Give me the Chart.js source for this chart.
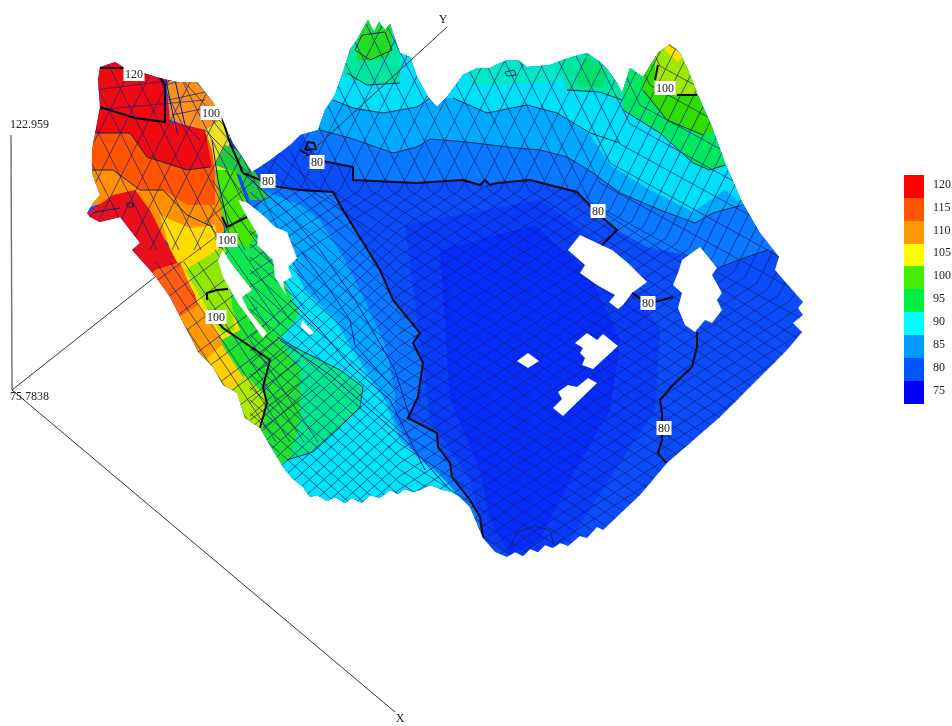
<!DOCTYPE html>
<html><head><meta charset="utf-8">
<style>html,body{margin:0;padding:0;background:#fff}#w{width:952px;height:726px}</style>
<script src="https://cdn.jsdelivr.net/npm/chart.js@4"></script></head>
<body><div id="w"><canvas id="c" width="952" height="726"></canvas></div>
<script>
// Legend
const legendLevels=[120,115,110,105,100,95,90,85,80,75];
const legendColors=['#ff0000','#ff5500','#ff9900','#ffff00','#44ee00','#00ee44','#00ffff','#0099ff','#0055ff','#0000ff'];
const legendTop=[175,198,221,244,266,289,312,335,358,381,404];
// Surface silhouette
const outline=[252,172,270,160,290,145,300,135,318,130,325,110,335,95,343,72,350,50,358,38,368,20,374,32,379,22,385,30,390,24,396,42,400,53,410,57,417,77,428,97,437,107,447,97,455,86,463,75,477,68,490,68,500,63,508,60,518,60,527,67,540,66,550,65,563,60,572,57,587,53,600,62,608,70,617,83,622,93,630,68,643,77,658,53,670,44,680,53,688,70,697,93,712,127,725,163,742,202,760,233,779,257,775,270,788,285,803,302,798,308,803,315,793,323,802,332,793,343,785,352,720,417,667,463,640,495,603,530,597,527,587,538,580,536,568,546,560,543,553,548,545,545,538,552,530,549,523,556,515,552,507,557,495,552,483,538,470,507,460,497,452,492,443,490,430,485,420,490,413,492,405,489,398,494,390,490,380,498,370,495,362,503,352,498,345,503,335,497,327,501,317,495,310,497,303,487,292,478,283,467,277,457,268,442,260,428,245,418,237,393,223,385,213,367,198,352,187,330,170,297,158,280,150,270,132,250,140,243,120,217,100,222,90,217,87,213,93,203,100,195,92,173,92,150,100,107,98,80,100,67,115,62,125,68,143,73,160,78,177,82,197,82,213,102,222,118,233,143];
// Colour bands, painted in this order
const bandBase=[0,0,952,0,952,726,0,726];
const band78=[405,225,540,200,610,250,660,330,655,410,615,470,570,540,520,560,485,540,470,480,430,420];
const band75=[440,250,535,225,590,275,620,340,610,410,575,470,540,540,510,555,490,520,480,470,450,400];
const band85=[297,0,800,0,800,257,779,257,768,250,747,257,720,267,700,258,647,247,617,230,597,213,577,192,530,180,497,183,485,185,463,180,417,183,353,180,353,167,320,160,305,140,297,130];
const band87=[310,0,810,0,810,205,742,205,713,213,695,223,660,210,620,193,593,173,567,157,540,150,507,147,467,142,430,139,417,147,393,153,350,138,320,130,310,128];
const band90=[325,0,810,0,810,190,745,205,725,190,693,212,650,190,610,165,590,135,557,113,527,105,487,113,453,98,430,98,417,107,383,113,353,108,333,100];
const peakA=[343,75,367,85,400,83,402,40,343,30];
const peakB=[357,60,370,60,385,58,392,52,392,15,357,15];
const ridgeA=[470,85,560,82,560,45,470,45];
const ridgeB=[560,72,567,90,600,92,622,102,622,40,560,40];
const ridgeC=[576,85,602,88,608,72,585,55];
const flank95=[623,110,660,133,693,163,710,170,730,165,730,0,622,0];
const flank100=[643,90,667,120,703,135,720,130,720,0,643,0];
const flank105=[655,62,655,80,677,95,697,95,700,0,655,0];
const flankTop=[665,50,678,62,690,50,680,35,665,35];
const wrinkle80=[250,178,300,190,333,192,343,210,380,270,393,300,420,333,413,343,423,363,418,397,408,418,437,433,438,447,450,463,452,477,470,500,480,517,483,538,300,540,240,300];
const wrinkle85=[262,190,300,205,320,220,345,260,365,300,385,345,395,390,395,420,420,460,445,490,460,510,300,540,240,300];
const wrinkle90=[280,240,305,290,335,320,365,370,385,400,400,440,440,475,460,497,440,520,280,520,240,340];
const wrinkle95=[277,337,300,350,340,370,363,387,360,407,337,430,313,452,287,460,270,440,240,350];
const strip=[222,240,262,235,300,315,280,340,245,325,220,290];
const wrinkle100=[225,290,250,310,277,337,300,370,300,420,290,458,275,470,255,430,235,395,220,340];
const lobeOrange=[80,140,215,140,225,240,195,270,160,235,130,195,80,210];
const lobeYellow=[160,215,190,228,215,225,222,265,225,290,240,330,222,340,205,320,170,250];
const lobeLime=[185,270,225,245,235,330,222,335,205,305];
const lobeRedOrange=[80,130,215,130,215,205,187,205,163,190,140,190,113,170,80,170];
const lobeRed=[80,50,165,50,165,85,170,122,185,125,205,130,212,167,187,170,147,157,130,133,80,133];
const lobePatch=[165,70,200,75,222,118,205,130,185,125,170,120];
const lobeStripY=[205,130,222,118,230,135,228,165,222,185,215,170,212,150];
const lobeStripD=[215,165,225,145,238,150,256,172,268,200,250,200,240,175];
const lobeStripG=[215,170,235,170,258,233,247,247,228,243,222,215];
const tongueRed=[85,215,113,195,135,190,150,210,165,240,195,295,200,320,187,335,150,300,110,260,100,230];
const tongueA=[155,270,180,262,198,305,195,325,180,340,140,290];
const tongueB=[178,318,198,305,218,335,225,350,213,375,170,345];
const tongueC=[205,360,222,345,245,380,240,410,205,385];
const tongueD=[232,390,245,375,265,395,262,440,230,420];
const bands=[[bandBase,'#0a4cf8'],[band78,'#083cf9'],[band75,'#052cfb'],[band85,'#0a78ff'],[band87,'#00aaff'],[band90,'#00e0f8'],[ridgeA,'#00e8c8'],[ridgeB,'#00e8a0'],[ridgeC,'#00e070'],[peakA,'#00e8a0'],[peakB,'#22dd22'],[flank95,'#00e860'],[flank100,'#30dd00'],[flank105,'#a0e800'],[flankTop,'#ffe000'],[wrinkle80,'#0a78ff'],[wrinkle85,'#00a8ff'],[wrinkle90,'#00e4f8'],[wrinkle95,'#00e88c'],[strip,'#10e850'],[wrinkle100,'#20e030'],[lobeOrange,'#ff9000'],[lobeYellow,'#ffdc00'],[lobeLime,'#90e800'],[lobeRedOrange,'#ff5500'],[lobeRed,'#ee0a10'],[lobePatch,'#f89020'],[lobeStripY,'#e8e020'],[lobeStripD,'#22c840'],[lobeStripG,'#44e600'],[tongueRed,'#e8101a'],[tongueA,'#ff6010'],[tongueB,'#ff9a00'],[tongueC,'#ffd000'],[tongueD,'#b0e800']];
// Mesh lines
const meshUp=[[240,190,325,20],[260,190,345,20],[250,209,280,190,365,20],[250,222,300,190,385,20],[250,235,320,190,405,20],[250,248,340,190,425,20],[250,261,360,190,445,20],[250,274,380,190,465,20],[250,287,400,190,485,20],[250,338,400,203,420,190,505,20],[250,351,400,216,440,190,525,20],[250,364,400,229,460,190,545,20],[250,377,400,242,480,190,565,20],[250,390,400,255,500,190,585,20],[250,403,400,268,520,190,605,20],[250,416,400,281,540,190,625,20],[250,429,400,294,560,190,645,20],[250,442,400,307,576,193,662,20],[250,455,400,320,587,198,676,20],[250,468,400,333,598,204,690,20],[250,481,400,346,610,210,705,20],[250,494,400,359,621,215,718,20],[250,507,400,372,632,221,731,20],[250,520,400,385,643,227,746,20],[250,533,400,398,655,232,761,20],[250,546,400,411,666,238,775,20],[250,559,400,424,677,243,788,20],[250,572,400,437,689,249,803,20],[250,585,400,450,700,255,817,20],[250,598,400,463,711,260,831,20],[250,611,400,476,723,266,846,20],[250,624,400,489,734,272,860,20],[250,637,400,502,745,277,873,20],[250,650,400,515,757,283,888,20],[250,663,400,528,768,289,902,20],[250,676,400,541,779,295,917,20],[250,689,400,554,791,300,931,20],[250,702,400,567,802,306,945,20],[400,580,820,307],[400,593,820,320],[400,606,820,333],[400,619,820,346],[400,632,820,359],[400,645,820,372]];
const meshDown=[[820,329,590,202,499,20],[820,304,600,183,518,20],[820,279,610,163,538,20],[820,254,620,144,558,20],[820,229,630,124,578,20],[820,204,640,105,598,20],[820,179,650,85,618,20],[820,154,660,66,637,20],[820,129,670,46,657,20],[820,353,569,190,484,20],[820,366,549,190,464,20],[820,379,529,190,444,20],[820,392,509,190,424,20],[820,405,489,190,404,20],[820,418,469,190,384,20],[820,431,449,190,364,20],[820,444,429,190,344,20],[820,457,409,190,324,20],[820,470,390,190,305,20],[820,483,370,190,285,20],[820,496,350,190,265,20],[820,509,330,190,245,20],[820,522,310,190,225,20],[820,535,400,262,250,127],[820,548,400,275,250,140],[820,561,400,288,250,153],[820,574,400,301,250,166],[820,587,400,314,250,179],[820,600,400,327,250,192],[820,613,400,340,250,205],[820,626,400,353,250,218],[820,639,400,366,250,231],[820,652,400,379,250,244],[820,665,400,392,250,257],[820,678,400,405,250,270],[820,691,400,418,250,283],[820,704,400,431,250,296],[820,717,400,444,250,309],[820,730,400,457,250,322],[820,743,400,470,250,335],[820,756,400,483,250,348],[820,769,400,496,250,361],[820,782,400,509,250,374],[820,795,400,522,250,387],[820,808,400,535,250,400],[820,821,400,548,250,413],[820,834,400,561,250,426]];
const meshLobe=[[40,250,135,60],[62,250,157,60],[84,250,179,60],[106,250,201,60],[128,250,223,60],[150,250,245,60],[172,250,267,60],[194,250,289,60],[40,60,135,250],[62,60,157,250],[84,60,179,250],[106,60,201,250],[128,60,223,250],[150,60,245,250],[172,60,267,250],[194,60,289,250],[95,90,215,75],[95,110,205,100],[142,262,262,442],[156,262,276,442],[170,262,290,442],[184,262,304,442],[198,262,318,442],[158,280,218,235],[168,297,228,252],[178,315,238,270],[187,330,247,285],[198,352,258,307],[208,367,268,322],[219,383,279,338],[230,392,290,347],[240,405,300,360],[250,420,310,375],[260,430,320,385],[225,170,320,300],[212,180,305,310],[210,205,290,320],[210,225,280,325],[215,250,270,330],[205,222,255,180],[215,240,265,198],[165,85,205,75],[168,100,215,90],[172,115,222,105],[178,75,228,130],[190,75,240,130],[205,130,250,175],[212,120,262,180]];
// White gaps
const holes=[[238,200,248,203,265,217,275,227,287,232,297,258,288,267,292,277,283,282,286,295,275,277,273,260,257,245,258,235,245,213],[223,250,230,262,252,290,242,297,248,310,267,333,263,338,238,303,223,277,218,260],[302,320,314,333,310,335,301,327],[580,235,597,243,612,250,628,263,647,282,632,293,623,305,618,309,609,302,615,295,597,285,580,273,585,265,568,250],[700,247,682,260,678,273,673,285,682,293,678,308,685,325,695,332,705,320,712,323,722,310,717,300,722,293,712,275,717,268],[528,353,539,361,528,368,517,361],[587,333,597,340,603,334,618,346,593,369,582,365,585,358,580,353,583,348,575,343],[588,378,597,383,563,416,553,408,562,399,558,392,568,385,577,387]];
// Contours
const contoursBold=[[243,173,260,180],[300,150,317,160,353,167,353,180,417,183,463,180,480,185,485,180,490,185,497,183,530,180,577,192,597,213,617,230,602,245],[632,293,641,299,655,302,673,297],[697,332,697,347,692,367,673,385,660,400,662,413,662,440,658,453,666,463],[273,186,300,190,333,192,343,210,380,270,393,300,420,333,413,343,423,363,418,397,408,418,437,433,438,447,450,463,452,477,470,500,480,517,483,538],[100,107,135,118,165,122,165,85,158,74],[100,68,125,68],[143,73,165,76],[222,118,230,143,243,173],[222,217,227,227,247,217],[207,300,207,293,217,290,228,289],[208,310,223,328,270,360,263,387,267,403,260,428],[658,65,655,80],[677,95,697,95],[305,150,308,142,314,143,316,149,305,150]];
const contoursThin=[[320,130,350,138,393,153,417,147,430,139,467,142,507,147,540,150,567,157,593,173,620,193,660,210,695,223,713,213,742,205],[333,100,353,108,383,113,417,107,430,98],[453,98,487,113,527,105,557,113,590,133,620,143],[347,73,367,85,400,83],[355,50,362,35,385,32,392,50,370,60,355,50],[567,90,600,92,622,100],[623,110,660,133,693,163,710,170,725,165],[643,90,667,120,703,135],[720,267,747,257,768,250,779,257],[93,133,130,133,147,157,187,170,210,167],[92,170,113,170,140,190,163,190,187,215,213,227],[277,337,300,350,340,370,363,387,360,407,337,430,313,452,287,460],[510,547,517,532,535,526,550,530,554,545],[505,72,514,70,516,75,507,76,505,72],[133,207,127,207,127,203,133,203,133,207]];
const wrinkles=[[300,250,330,290,350,320,355,345,395,390],[290,300,320,330,350,365,390,400,425,470],[280,340,330,375,405,440,450,490],[240,170,262,190,290,215,320,250,355,300,395,370,410,418],[165,75,172,110,178,135],[175,80,185,125,200,140],[212,140,218,180,228,225],[120,208,95,212,88,218]];
// Axes
const axisZ=[11,135,12,390];
const axisX=[12,390,395,712];
const axisYa=[12,390,155,277];
const axisYb=[302,160,447,27];
const axisTexts=[['122.959',10,125],['75.7838',10,397],['Y',443,20],['X',400,719]];
const contourLabels=[['120',134,74],['100',211,113],['80',317,162],['80',268,181],['100',227,240],['100',216,317],['100',665,88],['80',598,211],['80',648,303],['80',664,428]];

const pts=a=>{const r=[];for(let i=0;i<a.length;i+=2)r.push({x:a[i],y:a[i+1]});return r;};
const poly=(a,c,extra)=>Object.assign({data:pts(a),showLine:true,fill:'shape',backgroundColor:c,borderColor:c,borderWidth:0,pointRadius:0,tension:0},extra||{});
const line=(a,c,w,extra)=>Object.assign({data:pts(a),showLine:true,fill:false,borderColor:c,borderWidth:w,pointRadius:0,tension:0},extra||{});
const ds=[];
bands.forEach(b=>ds.push(poly(b[0],b[1])));
const meshColor='rgba(22,28,125,0.7)';
[meshUp,meshDown,meshLobe].forEach(f=>f.forEach(a=>ds.push(line(a,meshColor,1))));
wrinkles.forEach(a=>ds.push(line(a,'#0a1a90',1)));
holes.forEach(a=>ds.push(poly(a,'#ffffff')));
contoursThin.forEach(a=>ds.push(line(a,'#102a50',1)));
contoursBold.forEach(a=>ds.push(line(a,'#05051a',2)));
// everything after this point is not limited to the surface outline
ds.push(line(axisYb,'#333',1,{free:true}));
ds.push(line(axisZ,'#777',1.5));
ds.push(line(axisX,'#333',1));
ds.push(line(axisYa,'#333',1));
legendLevels.forEach((v,i)=>{const a=[904,legendTop[i],924,legendTop[i],924,legendTop[i+1],904,legendTop[i+1]];ds.push(poly(a,legendColors[i]));});

const surfacePlugin={id:'surface',
 beforeDatasetsDraw(ch){const c=ch.ctx,X=ch.scales.x,Y=ch.scales.y;c.save();c.beginPath();
  for(let i=0;i<outline.length;i+=2){const px=X.getPixelForValue(outline[i]),py=Y.getPixelForValue(outline[i+1]);i?c.lineTo(px,py):c.moveTo(px,py);}
  c.closePath();c.clip();ch.$clipOn=true;},
 beforeDatasetDraw(ch,args){if(ch.$clipOn&&ch.data.datasets[args.index].free){ch.ctx.restore();ch.$clipOn=false;}},
 afterDatasetsDraw(ch){const c=ch.ctx,X=ch.scales.x,Y=ch.scales.y;if(ch.$clipOn){c.restore();ch.$clipOn=false;}
  c.save();c.textBaseline='middle';c.font='12px "Liberation Serif"';
  contourLabels.forEach(l=>{const px=X.getPixelForValue(l[1]),py=Y.getPixelForValue(l[2]),w=c.measureText(l[0]).width+3;
   c.fillStyle='#fff';c.fillRect(px-w/2,py-7,w,14);c.fillStyle='#222';c.textAlign='center';c.fillText(l[0],px,py+.5);});
  c.textAlign='left';c.fillStyle='#222';
  legendLevels.forEach((v,i)=>c.fillText(String(v),X.getPixelForValue(933),Y.getPixelForValue((legendTop[i]+legendTop[i+1])/2-2)));
  axisTexts.forEach(t=>{c.textAlign=t[0].length>1?'left':'center';c.fillText(t[0],X.getPixelForValue(t[1]),Y.getPixelForValue(t[2]));});
  c.restore();}};

new Chart(document.getElementById('c'),{type:'scatter',
 data:{datasets:ds.slice().reverse()},
 options:{responsive:false,animation:false,devicePixelRatio:1,layout:{padding:0},
  plugins:{legend:{display:false},tooltip:{enabled:false},title:{display:false}},
  events:[],
  scales:{x:{type:'linear',display:false,min:0,max:952},y:{type:'linear',display:false,reverse:true,min:0,max:726}}},
 plugins:[surfacePlugin]});
</script></body></html>
